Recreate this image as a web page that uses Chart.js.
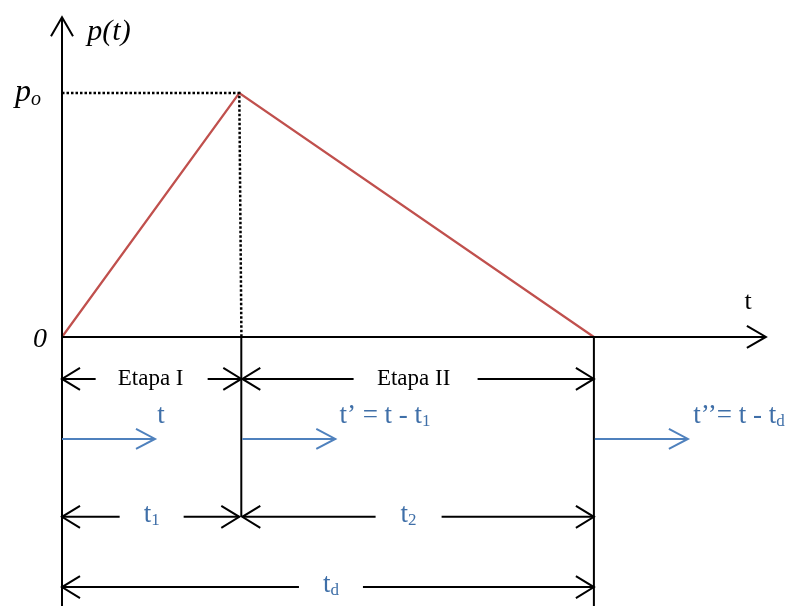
<!DOCTYPE html>
<html>
<head>
<meta charset="utf-8">
<script src="https://cdn.jsdelivr.net/npm/chart.js@4.4.1/dist/chart.umd.min.js"></script>
<style>
  html, body { margin: 0; padding: 0; background: #fff; }
  #wrap { width: 791px; height: 606px; }
</style>
</head>
<body>
<div id="wrap"><canvas id="grafico" width="791" height="606"></canvas></div>
<script>
// carga triangular: sube hasta p0 en t1, baja a cero en td
const tiempos = [0, 1, 3];          // 0, t1, td
const cargas  = [0, 1, 0];          // 0, p0, 0
const etapas  = ["Etapa I", "Etapa II"];
const tramos  = [["t", "1"], ["t", "2"]];
const tramoTotal = ["t", "d"];
const relojes = [["t", ""], ["t\u2019 = t - t", "1"], ["t\u2019\u2019= t - t", "d"]];

const ROJO = "#c0504d";
const AZUL = "#4f81bd";
const AZUL_TXT = "#3f6fa8";
const SERIF = "'Liberation Serif', 'DejaVu Serif', serif";

// niveles de las cotas bajo el eje (en unidades de p)
const nivelEtapa = -0.172;
const nivelReloj = -0.418;
const nivelTramo = -0.737;
const nivelTotal = -1.025;

function flecha(ctx, x, y, dir, largo, medio) {
  // punta abierta tipo ">"
  ctx.beginPath();
  if (dir === "r" || dir === "l") {
    const s = dir === "r" ? -1 : 1;
    ctx.moveTo(x + s * largo, y - medio);
    ctx.lineTo(x, y);
    ctx.lineTo(x + s * largo, y + medio);
  } else {
    ctx.moveTo(x - medio, y + largo);
    ctx.lineTo(x, y);
    ctx.lineTo(x + medio, y + largo);
  }
  ctx.stroke();
}

function linea(ctx, x1, y1, x2, y2) {
  ctx.beginPath();
  ctx.moveTo(x1, y1);
  ctx.lineTo(x2, y2);
  ctx.stroke();
}

// texto con subíndice, centrado en cx
function textoSub(ctx, base, sub, cx, y, size, italic, color) {
  const f = (italic ? "italic " : "") + size + "px " + SERIF;
  const fs = (italic ? "italic " : "") + Math.round(size * 0.62) + "px " + SERIF;
  ctx.font = f;
  const w1 = ctx.measureText(base).width;
  ctx.font = fs;
  const w2 = sub ? ctx.measureText(sub).width : 0;
  let x = cx - (w1 + w2) / 2;
  ctx.fillStyle = color;
  ctx.textAlign = "left";
  ctx.textBaseline = "alphabetic";
  ctx.font = f;
  ctx.fillText(base, x, y);
  if (sub) {
    ctx.font = fs;
    ctx.fillText(sub, x + w1, y + size * 0.12);
  }
}

// cota con flechas en los extremos y hueco para el rótulo
function cota(ctx, xa, xb, y, cx, hueco) {
  linea(ctx, xa, y, cx - hueco, y);
  linea(ctx, cx + hueco, y, xb, y);
  flecha(ctx, xa, y, "l", 18, 11);
  flecha(ctx, xb, y, "r", 18, 11);
}

const dibujo = {
  id: "dibujo",
  afterDatasetsDraw(chart) {
    const { ctx, scales: { x, y } } = chart;
    const X = v => x.getPixelForValue(v);
    const Y = v => y.getPixelForValue(v);
    const x0 = X(tiempos[0]), x1 = X(tiempos[1]) + 2, xd = X(tiempos[2]);
    const y0 = Y(0), yp = Y(cargas[1]);

    ctx.save();
    ctx.strokeStyle = "#000";
    ctx.lineWidth = 2;
    ctx.lineCap = "butt";

    // ejes
    const yTop = Y(1.31);
    linea(ctx, x0, yTop, x0, chart.height);
    flecha(ctx, x0, yTop, "u", 19, 11);
    const xEnd = X(3.97);
    linea(ctx, x0, y0, xEnd, y0);
    flecha(ctx, xEnd, y0, "r", 19, 11);

    // líneas verticales de separación
    linea(ctx, x1, y0, x1, Y(nivelTramo));
    linea(ctx, xd, y0, xd, chart.height);

    // cotas de etapas
    ctx.font = "23px " + SERIF;
    ctx.fillStyle = "#000";
    ctx.textAlign = "center";
    ctx.textBaseline = "middle";
    const yE = Y(nivelEtapa);
    cota(ctx, x0, x1, yE, (x0 + x1) / 2, 56);
    ctx.fillText(etapas[0], (x0 + x1) / 2 - 1, yE);
    cota(ctx, x1 + 1, xd, yE, (x1 + xd) / 2 - 2, 62);
    ctx.fillText(etapas[1], (x1 + xd) / 2 - 4, yE);

    // relojes locales (flechas azules)
    const yR = Y(nivelReloj);
    ctx.strokeStyle = AZUL;
    const inicios = [x0, x1 + 1, xd + 1];
    const rotulos = [161, 385, 739];
    inicios.forEach((xs, i) => {
      const xe = xs + 93;
      linea(ctx, xs, yR, xe, yR);
      flecha(ctx, xe, yR, "r", 19, 10);
      textoSub(ctx, relojes[i][0], relojes[i][1], rotulos[i], yR - 16, 27, false, AZUL_TXT);
    });

    // cotas t1, t2, td
    ctx.strokeStyle = "#000";
    const yT = Y(nivelTramo);
    const c1 = (x0 + x1) / 2, c2 = (x1 + xd) / 2 - 9;
    cota(ctx, x0, x1 - 2, yT, c1, 32);
    cota(ctx, x1 + 1, xd, yT, c2, 33);
    textoSub(ctx, tramos[0][0], tramos[0][1], c1, yT + 5, 27, false, AZUL_TXT);
    textoSub(ctx, tramos[1][0], tramos[1][1], c2, yT + 5, 27, false, AZUL_TXT);
    const yD = Y(nivelTotal);
    const cD = (x0 + xd) / 2 + 3;
    cota(ctx, x0, xd, yD, cD, 32);
    textoSub(ctx, tramoTotal[0], tramoTotal[1], cD, yD + 5, 27, false, AZUL_TXT);

    // rótulos de los ejes
    textoSub(ctx, "p(t)", "", 109, 40, 30, true, "#000");
    textoSub(ctx, "p", "o", 28, yp + 8, 32, true, "#000");
    textoSub(ctx, "0", "", 40, y0 + 10, 28, true, "#000");
    textoSub(ctx, "t", "", 748, y0 - 28, 26, false, "#000");
    ctx.restore();
  }
};

const puntos = tiempos.map((t, i) => ({ x: t, y: cargas[i] }));
const guia = [
  { x: tiempos[0], y: cargas[1] },
  { x: tiempos[1], y: cargas[1] },
  { x: tiempos[1] + 0.012, y: 0 }
];

new Chart(document.getElementById("grafico"), {
  type: "scatter",
  data: {
    datasets: [
      {
        label: "guía",
        data: guia,
        showLine: true,
        borderColor: "#000",
        borderWidth: 2.5,
        borderDash: [2.5, 2],
        pointRadius: 0
      },
      {
        label: "p(t)",
        data: puntos,
        showLine: true,
        borderColor: ROJO,
        borderWidth: 2.2,
        pointRadius: 0
      }
    ]
  },
  options: {
    responsive: false,
    animation: false,
    events: [],
    layout: { padding: 0 },
    scales: {
      x: { type: "linear", min: -0.3497, max: 4.1117, display: false },
      y: { type: "linear", min: -1.1025, max: 1.3811, display: false }
    },
    plugins: { legend: { display: false }, tooltip: { enabled: false } }
  },
  plugins: [dibujo]
});
</script>
</body>
</html>
